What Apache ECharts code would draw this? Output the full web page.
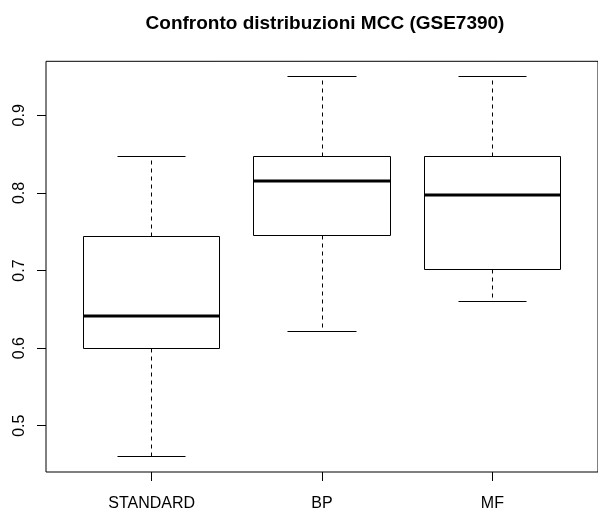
<!DOCTYPE html>
<html>
<head>
<meta charset="utf-8">
<script src="https://cdn.jsdelivr.net/npm/echarts@6/dist/echarts.min.js"></script>
<style>html,body{margin:0;padding:0;background:#fff;}#c{width:598px;height:512px;}</style>
</head>
<body>
<div id="c"></div>
<script>
const titleText = 'Confronto distribuzioni MCC (GSE7390)';
const categories = ['STANDARD', 'BP', 'MF'];
const mins    = [0.460, 0.622, 0.660];
const q1s     = [0.600, 0.745, 0.701];
const medians = [0.642, 0.816, 0.797];
const q3s     = [0.744, 0.847, 0.847];
const maxs    = [0.847, 0.950, 0.950];
const yTicks  = [0.5, 0.6, 0.7, 0.8, 0.9];

const FONT = '"Liberation Sans", Arial, Helvetica, sans-serif';
const data = categories.map((c, i) => [i + 1, mins[i], q1s[i], medians[i], q3s[i], maxs[i]]);

function r5(v) { return Math.round(v - 0.5) + 0.5; }

const chart = echarts.init(document.getElementById('c'), null, {renderer: 'canvas'});
chart.setOption({
  backgroundColor: '#fff',
  animation: false,
  graphic: [{
    type: 'text', x: 325, y: 24,
    style: {text: titleText, font: 'bold 19px ' + FONT, fill: '#000', textAlign: 'center', textVerticalAlign: 'middle'}
  }],
  grid: {left: 46, top: 61.3, width: 558.5, height: 412, show: true, borderColor: '#000', borderWidth: 1, backgroundColor: 'transparent'},
  xAxis: {
    type: 'value', min: 0.38, max: 3.62,
    axisLine: {show: false},
    splitLine: {show: false},
    axisTick: {show: true, customValues: [1, 2, 3], length: 9, lineStyle: {color: '#000', width: 1}},
    axisLabel: {show: true, customValues: [1, 2, 3], margin: 24, fontSize: 16, color: '#000', fontFamily: FONT,
      formatter: v => categories[Math.round(v) - 1] || ''}
  },
  yAxis: {
    type: 'value', min: 0.4404, max: 0.9696,
    axisLine: {show: false},
    splitLine: {show: false},
    axisTick: {show: true, customValues: yTicks, length: 9, lineStyle: {color: '#000', width: 1}},
    axisLabel: {show: true, customValues: yTicks, rotate: 90, margin: 18, fontSize: 16, color: '#000', fontFamily: FONT,
      formatter: v => String(Math.round(v * 10) / 10)}
  },
  series: [{
    type: 'custom',
    data: data,
    encode: {x: 0, y: [1, 2, 3, 4, 5]},
    renderItem: function (params, api) {
      const x = api.value(0);
      const half = api.size([0.4, 0])[0];
      const cap = half / 2;
      const c = api.coord([x, api.value(1)]);
      const cx = r5(c[0]);
      const yMin = r5(c[1]);
      const yQ1 = r5(api.coord([x, api.value(2)])[1]);
      const yMed = Math.round(api.coord([x, api.value(3)])[1]);
      const yQ3 = r5(api.coord([x, api.value(4)])[1]);
      const yMax = r5(api.coord([x, api.value(5)])[1]);
      const xl = r5(c[0] - half), xr = r5(c[0] + half);
      const solid = {stroke: '#000', lineWidth: 1, fill: null};
      const dashed = {stroke: '#000', lineWidth: 1, lineDash: [4, 4], fill: null};
      return {
        type: 'group',
        children: [
          {type: 'line', shape: {x1: cx, y1: yQ3, x2: cx, y2: yMax}, style: dashed},
          {type: 'line', shape: {x1: cx, y1: yQ1, x2: cx, y2: yMin}, style: dashed},
          {type: 'line', shape: {x1: r5(c[0] - cap), y1: yMax, x2: r5(c[0] + cap), y2: yMax}, style: solid},
          {type: 'line', shape: {x1: r5(c[0] - cap), y1: yMin, x2: r5(c[0] + cap), y2: yMin}, style: solid},
          {type: 'rect', shape: {x: xl, y: yQ3, width: xr - xl, height: yQ1 - yQ3}, style: {stroke: '#000', lineWidth: 1, fill: '#fff'}},
          {type: 'line', shape: {x1: xl, y1: yMed, x2: xr, y2: yMed}, style: {stroke: '#000', lineWidth: 3}}
        ]
      };
    }
  }]
});
</script>
</body>
</html>
